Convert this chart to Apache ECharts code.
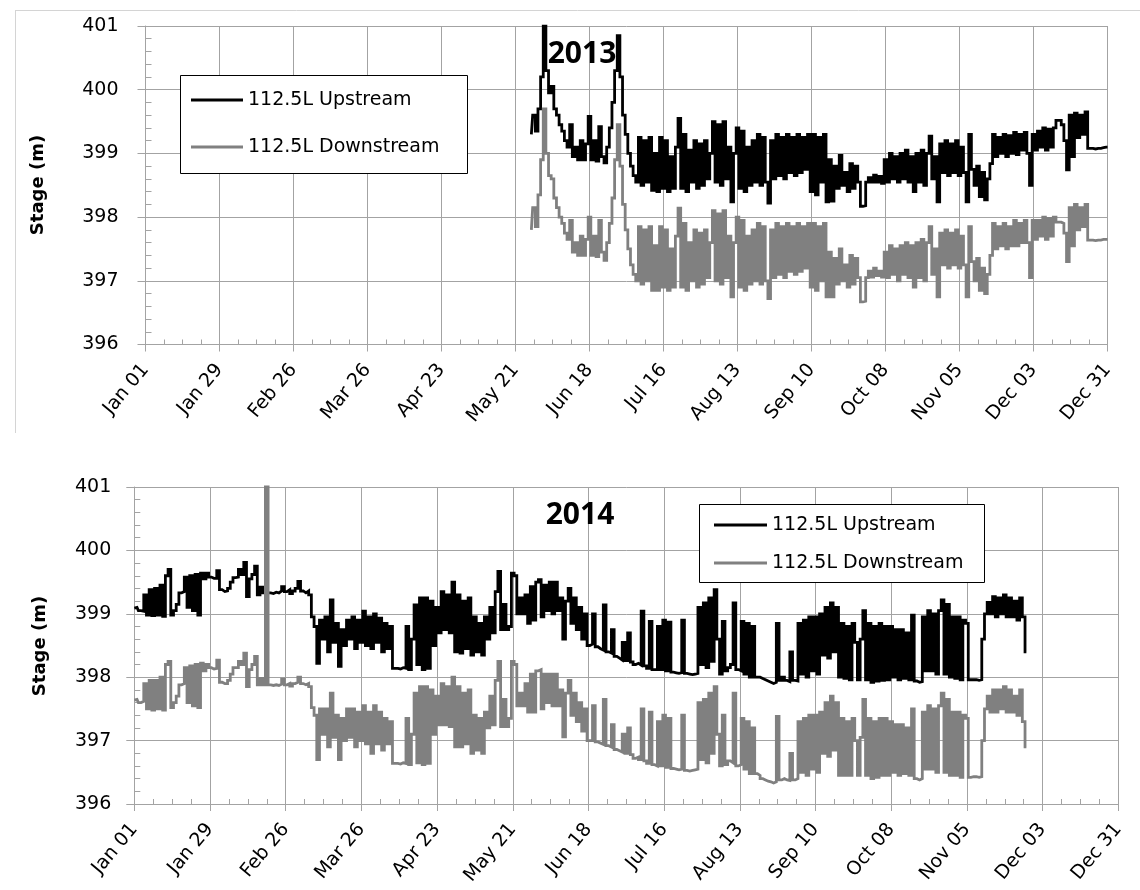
<!DOCTYPE html>
<html><head><meta charset="utf-8">
<script src="https://cdn.jsdelivr.net/npm/echarts@6/dist/echarts.min.js"></script>
<style>html,body{margin:0;padding:0;background:#fff}#c{width:1140px;height:890px}</style>
</head><body><div id="c"></div>
<script>
const tickLabels = ['Jan 01','Jan 29','Feb 26','Mar 26','Apr 23','May 21','Jun 18','Jul 16','Aug 13','Sep 10','Oct 08','Nov 05','Dec 03','Dec 31'];
const seriesNames = ['112.5L Upstream','112.5L Downstream'];
const years = ['2013','2014'];

// 2013: one value per day, starting at day-of-year 146 (May 27)
const start2013 = 146;
const up2013 = [
399.30,399.60,399.35,399.70,400.20,401.00,400.30,399.95,400.05,399.70,
399.60,399.45,399.35,399.20,399.10,399.45,398.95,399.10,398.90,399.20,
398.90,399.15,399.58,398.90,399.20,398.88,399.42,398.95,398.85,399.10,
399.40,399.80,400.30,400.85,400.20,399.60,399.30,399.00,398.80,398.65,
398.55,399.25,398.50,399.20,398.55,399.25,398.42,399.00,398.40,399.25,
398.45,399.20,398.40,398.95,398.45,399.10,399.55,398.45,399.30,398.40,
399.05,398.55,399.20,398.45,399.15,398.50,399.20,398.60,399.00,399.50,
398.55,399.45,398.50,399.50,398.60,399.10,398.24,399.00,399.40,398.45,
399.35,398.40,399.10,398.50,399.20,398.55,399.30,398.50,399.25,398.55,
398.22,399.20,398.60,399.30,398.65,399.25,398.60,399.30,398.70,399.25,
398.65,399.30,398.70,399.25,398.75,399.30,398.40,399.30,398.35,399.25,
398.55,399.30,398.24,398.90,398.25,398.80,398.45,398.97,398.50,398.70,
398.40,398.84,398.45,398.80,398.55,398.17,398.18,398.55,398.62,398.55,
398.66,398.55,398.64,398.53,398.90,398.55,399.00,398.60,398.95,398.55,
399.00,398.60,399.05,398.55,398.95,398.40,399.00,398.55,399.05,398.50,
399.00,399.27,398.60,398.95,398.24,399.15,398.70,399.20,398.65,399.15,
398.70,399.20,398.65,399.10,398.70,398.24,399.30,398.75,398.50,398.80,
398.32,398.70,398.27,398.60,398.84,399.30,398.95,399.25,399.00,399.30,
398.95,399.28,399.00,399.33,398.98,399.30,399.05,399.33,399.00,398.50,
399.30,399.05,399.35,399.10,399.40,399.05,399.38,399.10,399.40,399.52,
399.52,399.45,399.20,398.74,399.60,398.95,399.63,399.25,399.60,399.30,
399.65,399.08,399.08,399.07,399.08,399.08,399.09,399.10,399.10
];
const down2013 = [
397.80,398.15,397.85,398.35,398.90,399.70,399.00,398.65,398.60,398.30,
398.15,398.00,397.90,397.75,397.65,397.95,397.45,397.60,397.40,397.70,
397.40,397.65,398.00,397.40,397.70,397.38,397.95,397.45,397.32,397.60,
397.90,398.30,398.90,399.45,398.80,398.20,397.80,397.50,397.25,397.10,
397.00,397.85,396.95,397.80,397.00,397.85,396.85,397.55,396.85,397.85,
396.90,397.80,396.85,397.50,396.90,397.70,398.14,396.90,397.90,396.85,
397.60,397.00,397.80,396.90,397.75,396.95,397.80,397.05,397.60,398.10,
397.00,398.05,396.95,398.10,397.05,397.70,396.75,397.60,398.00,396.90,
397.95,396.85,397.70,396.95,397.80,397.00,397.90,396.95,397.85,397.00,
396.72,397.80,397.05,397.90,397.10,397.85,397.05,397.90,397.15,397.85,
397.10,397.90,397.15,397.85,397.20,397.90,396.90,397.90,396.85,397.85,
397.00,397.90,396.75,397.45,396.75,397.35,396.95,397.50,397.00,397.25,
396.90,397.40,396.95,397.35,397.05,396.67,396.68,397.05,397.15,397.06,
397.20,397.08,397.15,397.06,397.45,397.05,397.55,397.10,397.50,397.00,
397.55,397.10,397.60,397.05,397.55,396.90,397.60,397.05,397.65,397.00,
397.60,397.85,397.10,397.50,396.75,397.75,397.25,397.80,397.20,397.75,
397.25,397.80,397.20,397.70,397.25,396.75,397.85,397.30,397.00,397.35,
396.85,397.20,396.80,397.10,397.40,397.90,397.50,397.85,397.55,397.90,
397.50,397.85,397.55,397.95,397.55,397.90,397.60,397.95,397.60,397.05,
397.95,397.65,397.95,397.70,398.00,397.65,397.98,397.70,398.00,397.92,
397.92,397.90,397.75,397.30,398.15,397.55,398.20,397.80,398.15,397.85,
398.20,397.64,397.64,397.63,397.64,397.64,397.65,397.65,397.65
];

// 2014: one value per day, starting at day-of-year 0 (Jan 01)
const start2014 = 0;
const up2014 = [
399.09,399.10,399.05,399.04,399.30,398.98,399.38,398.97,399.40,398.98,
399.45,398.96,399.60,399.70,398.98,399.05,399.15,399.33,399.35,399.58,
399.10,399.60,399.05,399.62,398.98,399.64,399.55,399.64,399.58,399.56,
399.56,399.68,399.38,399.35,399.36,399.40,399.50,399.57,399.58,399.70,
399.62,399.81,399.27,399.55,399.62,399.75,399.30,399.42,399.33,399.33,
399.33,399.32,399.34,399.33,399.36,399.43,399.35,399.38,399.32,399.36,
399.40,399.51,399.36,399.33,399.36,399.30,398.95,398.80,398.22,398.90,
398.60,398.95,398.40,399.22,398.55,398.85,398.17,398.75,398.50,398.90,
398.60,398.95,398.45,398.90,398.55,399.04,398.50,398.95,398.45,399.00,
398.55,398.93,398.40,398.85,398.45,398.80,398.14,398.14,398.13,398.15,
398.14,398.80,398.12,398.60,399.14,398.20,399.25,398.12,399.25,398.14,
399.20,398.50,399.10,398.70,399.35,398.75,399.30,398.70,399.50,398.40,
399.30,398.38,399.20,398.45,399.25,398.35,398.95,398.40,398.85,398.35,
398.95,398.60,399.10,398.70,399.35,399.67,398.75,399.15,398.75,398.80,
399.64,399.60,399.00,399.25,399.00,399.30,398.85,399.43,398.90,399.50,
399.54,398.95,399.45,399.05,399.50,399.00,399.50,399.05,399.25,398.60,
399.20,399.40,398.85,399.25,398.75,399.10,398.60,399.00,398.50,398.52,
399.00,398.48,398.45,398.43,399.14,398.40,398.38,398.75,398.33,398.30,
398.27,398.55,398.26,398.70,398.24,398.20,398.22,398.19,399.04,398.18,
398.14,398.88,398.12,398.12,398.80,398.12,398.90,398.10,398.87,398.08,
398.07,398.06,398.07,398.90,398.06,398.05,398.04,398.05,398.06,399.10,
398.20,399.17,398.15,399.25,398.25,399.38,398.60,398.05,398.88,398.10,
398.15,398.20,399.17,398.12,398.10,398.88,398.05,398.85,398.00,398.80,
398.00,398.00,397.98,397.96,397.94,397.92,397.90,397.92,398.85,397.95,
398.00,397.95,397.93,398.40,397.95,397.94,398.85,398.05,398.90,398.00,
398.95,398.10,398.95,398.05,399.00,398.35,399.10,398.30,399.17,398.40,
399.10,398.00,398.85,397.98,398.80,397.96,398.85,398.55,397.96,398.60,
399.05,397.96,398.85,397.92,398.80,397.94,398.85,397.95,398.80,397.96,
398.80,398.00,398.75,397.96,398.75,397.98,398.70,397.96,398.98,397.94,
397.92,397.93,398.95,398.10,399.05,398.10,399.00,398.05,399.05,399.22,
398.05,399.15,398.00,398.95,397.98,398.95,397.96,398.90,398.85,397.96,
397.96,397.96,397.95,397.96,398.60,399.00,399.18,399.00,399.27,398.95,
399.25,399.00,399.30,398.95,399.25,398.95,399.20,398.90,399.25,398.95,
398.40
];
const down2014 = [
397.64,397.65,397.60,397.62,397.90,397.50,397.95,397.48,397.95,397.50,
398.00,397.48,398.20,398.25,397.52,397.60,397.70,397.88,397.90,398.15,
397.60,398.18,397.55,398.20,397.52,398.22,398.10,398.20,398.15,398.13,
398.14,398.27,397.92,397.90,397.90,397.95,398.05,398.15,398.15,398.25,
398.20,398.38,397.85,398.12,398.20,398.33,397.88,397.98,397.88,401.30,
397.88,397.87,397.88,397.87,397.89,397.97,397.88,397.90,397.86,397.90,
397.92,398.00,397.90,397.88,397.90,397.85,397.52,397.40,396.70,397.50,
397.10,397.50,396.90,397.75,397.05,397.40,396.70,397.35,397.00,397.50,
397.05,397.50,396.90,397.45,397.00,397.55,396.95,397.45,396.80,397.55,
396.95,397.45,396.85,397.35,396.95,397.30,396.64,396.64,396.63,396.65,
396.64,397.35,396.62,397.10,397.75,396.65,397.85,396.62,397.85,396.64,
397.80,397.10,397.70,397.25,397.90,397.25,397.85,397.22,398.00,396.90,
397.85,396.90,397.75,396.95,397.80,396.80,397.40,396.85,397.35,396.80,
397.45,397.20,397.70,397.25,397.95,398.25,397.22,397.65,397.22,397.35,
398.25,398.20,397.55,397.75,397.55,397.90,397.45,398.05,397.45,398.10,
398.12,397.50,398.05,397.60,398.05,397.55,398.05,397.55,397.80,397.06,
397.75,397.95,397.40,397.75,397.30,397.60,397.15,397.50,397.00,397.00,
397.55,396.98,396.96,396.94,397.65,396.92,396.90,397.25,396.86,396.84,
396.82,397.10,396.80,397.20,396.78,396.72,396.74,396.70,397.50,396.68,
396.64,397.45,396.62,396.60,397.30,396.60,397.40,396.58,397.35,396.56,
396.55,396.54,396.55,397.40,396.53,396.52,396.53,396.54,396.55,397.60,
396.70,397.65,396.65,397.75,396.80,397.85,397.10,396.60,397.40,396.62,
396.68,396.65,397.75,396.60,396.62,397.35,396.55,397.30,396.48,397.20,
396.48,396.45,396.40,396.38,396.36,396.35,396.33,396.35,397.38,396.38,
396.40,396.38,396.37,396.80,396.38,396.40,397.30,396.50,397.35,396.45,
397.40,396.55,397.40,396.50,397.45,396.80,397.60,396.75,397.70,396.85,
397.60,396.45,397.35,396.45,397.30,396.45,397.35,397.00,396.45,397.05,
397.65,396.45,397.35,396.40,397.30,396.42,397.35,396.45,397.35,396.45,
397.30,396.50,397.25,396.45,397.25,396.48,397.20,396.45,397.50,396.40,
396.38,396.40,397.45,396.55,397.55,396.55,397.50,396.50,397.55,397.75,
396.50,397.65,396.45,397.45,396.45,397.45,396.42,397.40,397.35,396.42,
396.43,396.43,396.42,396.43,397.00,397.50,397.70,397.45,397.80,397.45,
397.80,397.50,397.85,397.45,397.80,397.45,397.70,397.40,397.80,397.30,
396.90
];

const GRID = '#a3a3a3';
const FONT = 'DejaVu Sans';
const colors = ['#000000', '#808080'];

function mainX(gi) {
  return {
    type: 'value', gridIndex: gi, position: 'bottom', min: 0, max: 364, interval: 28,
    axisLine: { show: true, onZero: false, lineStyle: { color: GRID, width: 1 } },
    axisTick: { show: true, length: 7, lineStyle: { color: GRID } },
    axisLabel: { rotate: 50, margin: 22, fontSize: 19, fontFamily: FONT, color: '#000',
      formatter: v => tickLabels[Math.round(v / 28)] },
    splitLine: { show: true, lineStyle: { color: GRID, width: 1 } }
  };
}
function minorX(gi) {
  return {
    type: 'value', gridIndex: gi, position: 'bottom', min: 0, max: 364, interval: 28,
    axisLine: { show: false, onZero: false }, axisLabel: { show: false }, splitLine: { show: false },
    axisTick: { show: false, inside: true },
    minorTick: { show: true, splitNumber: 4, length: 5, lineStyle: { color: GRID } }
  };
}
function mainY(gi, margin) {
  return {
    type: 'value', gridIndex: gi, position: 'left', min: 396, max: 401, interval: 1,
    axisLine: { show: true, lineStyle: { color: GRID, width: 1 } },
    axisTick: { show: true, length: 8, lineStyle: { color: GRID } },
    axisLabel: { margin: margin, fontSize: 19, fontFamily: FONT, color: '#000' },
    splitLine: { show: true, lineStyle: { color: GRID, width: 1 } }
  };
}
function minorY(gi) {
  return {
    type: 'value', gridIndex: gi, position: 'left', min: 396, max: 401, interval: 1,
    axisLine: { show: false }, axisLabel: { show: false }, splitLine: { show: false },
    axisTick: { show: false, inside: true },
    minorTick: { show: true, splitNumber: 5, length: 6, lineStyle: { color: GRID } }
  };
}
function mk(name, color, start, arr, xi, yi) {
  return {
    type: 'line', name: name, xAxisIndex: xi, yAxisIndex: yi,
    data: arr.map((v, i) => [start + i, v]),
    step: 'middle',
    showSymbol: false, symbol: 'none', clip: true, animation: false,
    lineStyle: { color: color, width: 2.8, join: 'miter' }, itemStyle: { color: color }
  };
}
function legendAt(left, top, itemWidth, gap) {
  return {
    left: left, top: top, orient: 'vertical', icon: 'rect', itemWidth: itemWidth, itemHeight: 3,
    itemGap: gap, padding: 0, selectedMode: false, z: 50, data: seriesNames,
    textStyle: { fontSize: 19, fontFamily: FONT, color: '#000', lineHeight: 22 }
  };
}

const chart = echarts.init(document.getElementById('c'));
chart.setOption({
  animation: false,
  backgroundColor: '#fff',
  grid: [
    { left: 145.5, top: 26, width: 962, height: 318.5 },
    { left: 134.3, top: 487, width: 984, height: 317 }
  ],
  xAxis: [mainX(0), minorX(0), mainX(1), minorX(1)],
  yAxis: [mainY(0, 27), minorY(0), mainY(1, 23), minorY(1)],
  legend: [legendAt(191, 89, 52, 25), legendAt(714, 514, 53, 16)],
  series: [
    mk(seriesNames[0], colors[0], start2013, up2013, 0, 0),
    mk(seriesNames[1], colors[1], start2013, down2013, 0, 0),
    mk(seriesNames[0], colors[0], start2014, up2014, 2, 2),
    mk(seriesNames[1], colors[1], start2014, down2014, 2, 2)
  ],
  graphic: [
    { type: 'line', z: 1, shape: { x1: 15, y1: 10.5, x2: 1140, y2: 10.5 }, style: { stroke: '#d4d4d4', lineWidth: 1 } },
    { type: 'line', z: 1, shape: { x1: 15.5, y1: 10, x2: 15.5, y2: 433 }, style: { stroke: '#d4d4d4', lineWidth: 1 } },
    { type: 'rect', z: 40, shape: { x: 180.5, y: 75.5, width: 287, height: 98 }, style: { fill: '#fff', stroke: '#000', lineWidth: 1 } },
    { type: 'rect', z: 40, shape: { x: 699.5, y: 504.5, width: 285, height: 78 }, style: { fill: '#fff', stroke: '#000', lineWidth: 1 } },
    { type: 'text', z: 45, x: 582, y: 54, style: { text: years[0], fontSize: 30, fontWeight: 'bold', fontFamily: 'Open Sans', fill: '#000', align: 'center', verticalAlign: 'middle' } },
    { type: 'text', z: 45, x: 580, y: 515, style: { text: years[1], fontSize: 30, fontWeight: 'bold', fontFamily: 'Open Sans', fill: '#000', align: 'center', verticalAlign: 'middle' } },
    { type: 'text', z: 45, x: 38, y: 185, rotation: Math.PI / 2, style: { text: 'Stage (m)', fontSize: 18, fontWeight: 'bold', fontFamily: FONT, fill: '#000', align: 'center', verticalAlign: 'middle' } },
    { type: 'text', z: 45, x: 40, y: 646, rotation: Math.PI / 2, style: { text: 'Stage (m)', fontSize: 18, fontWeight: 'bold', fontFamily: FONT, fill: '#000', align: 'center', verticalAlign: 'middle' } }
  ]
});
</script>
</body></html>
